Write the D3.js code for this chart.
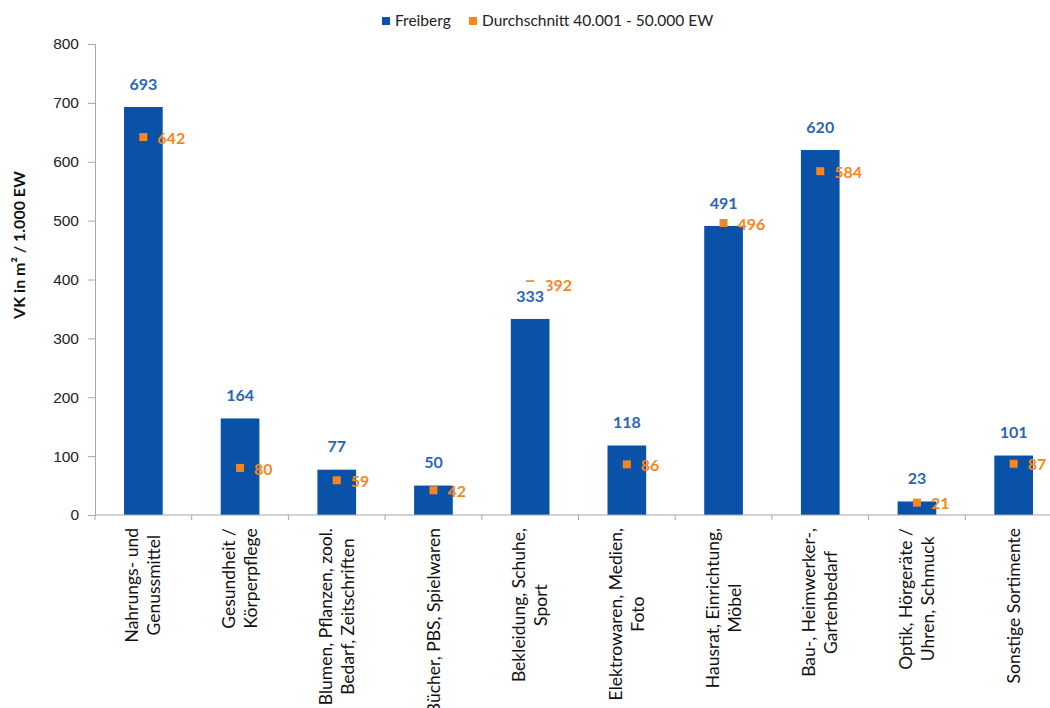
<!DOCTYPE html>
<html>
<head>
<meta charset="utf-8">
<script src="https://cdn.jsdelivr.net/npm/d3@7/dist/d3.min.js"></script>
<style>
  html, body { margin: 0; padding: 0; background: #fff; }
  svg { display: block; font-family: Lato, "Open Sans", sans-serif; }
</style>
</head>
<body>
<svg id="chart" width="1050" height="708"></svg>
<script>
// Sortimente (zeilenweise umbrochen)
const categories = [
  ["Nahrungs- und", "Genussmittel"],
  ["Gesundheit /", "Körperpflege"],
  ["Blumen, Pflanzen, zool.", "Bedarf, Zeitschriften"],
  ["Bücher, PBS, Spielwaren"],
  ["Bekleidung, Schuhe,", "Sport"],
  ["Elektrowaren, Medien,", "Foto"],
  ["Hausrat, Einrichtung,", "Möbel"],
  ["Bau-, Heimwerker-,", "Gartenbedarf"],
  ["Optik, Hörgeräte /", "Uhren, Schmuck"],
  ["Sonstige Sortimente"]
];
const freiberg = [693, 164, 77, 50, 333, 118, 491, 620, 23, 101];
const durchschnitt = [642, 80, 59, 42, 392, 86, 496, 584, 21, 87];
const yTicks = [0, 100, 200, 300, 400, 500, 600, 700, 800];
const seriesNames = ["Freiberg", "Durchschnitt 40.001 - 50.000 EW"];

const colBar = "#0A52A8", colBarLabel = "#2A66B5", colAvg = "#F7861E", colAxis = "#A6A6A6";

const svg = d3.select("#chart");
const plotL = 95, plotR = 1062, plotT = 44, plotB = 515;

const x = d3.scaleBand().domain(d3.range(categories.length)).range([plotL, plotR]).paddingInner(0.6).paddingOuter(0.3);
const xb = d3.scaleBand().domain(d3.range(categories.length)).range([plotL, plotR]);
const y = d3.scaleLinear().domain([0, 800]).range([plotB, plotT]);

// Y-Achse
const yAxis = svg.append("g").attr("transform", `translate(${plotL},0)`)
  .call(d3.axisLeft(y).tickValues(yTicks).tickSize(7).tickPadding(9).tickFormat(d3.format("d")));
yAxis.selectAll("line, path").attr("stroke", colAxis);
yAxis.selectAll("text").attr("font-size", 15.5).attr("fill", "#222");

// Achsentitel
svg.append("text")
  .attr("transform", `translate(25,245) rotate(-90)`)
  .attr("text-anchor", "middle").attr("font-size", 16).attr("font-weight", "bold").attr("fill", "#111")
  .text("VK in m² / 1.000 EW");

// Balken Freiberg
svg.append("g").selectAll("rect").data(freiberg).join("rect")
  .attr("x", (d, i) => x(i)).attr("width", x.bandwidth())
  .attr("y", d => y(d)).attr("height", d => y(0) - y(d))
  .attr("fill", colBar);

// X-Achse mit Trennstrichen zwischen den Kategorien
const xAxisG = svg.append("g");
xAxisG.append("line").attr("x1", plotL).attr("x2", plotR).attr("y1", plotB).attr("y2", plotB).attr("stroke", colAxis);
xAxisG.selectAll("line.t").data(d3.range(categories.length + 1)).join("line").attr("class", "t")
  .attr("x1", i => i < categories.length ? xb(i) : plotR).attr("x2", i => i < categories.length ? xb(i) : plotR)
  .attr("y1", plotB).attr("y2", plotB + 5).attr("stroke", colAxis);

// Durchschnittswerte als Quadrate
svg.append("g").selectAll("rect").data(durchschnitt).join("rect")
  .attr("x", (d, i) => x(i) + x.bandwidth() / 2 - 4).attr("y", d => y(d) - 4)
  .attr("width", 8).attr("height", 8).attr("fill", colAvg);

// Beschriftungen Durchschnitt
svg.append("g").selectAll("text").data(durchschnitt).join("text")
  .attr("x", (d, i) => x(i) + x.bandwidth() / 2 + 14).attr("y", d => y(d) + 1).attr("dy", "0.35em")
  .attr("font-size", 16).attr("font-weight", "bold").attr("fill", colAvg)
  .text(d => d);

// Beschriftungen Freiberg (mit weißem Hintergrund)
const lab = svg.append("g").selectAll("g").data(freiberg).join("g")
  .attr("transform", (d, i) => `translate(${x(i) + x.bandwidth() / 2},${y(d) - 23})`);
lab.append("rect").attr("x", -17).attr("y", -14).attr("width", 34).attr("height", 26).attr("fill", "#fff");
lab.append("text").attr("text-anchor", "middle").attr("dy", "0.35em")
  .attr("font-size", 16).attr("font-weight", "bold").attr("fill", colBarLabel)
  .text(d => d);

// Kategoriebeschriftungen, um 90° gedreht
const catG = svg.append("g");
categories.forEach((lines, i) => {
  const cx = xb(i) + xb.bandwidth() / 2;
  const g = catG.append("g").attr("transform", `translate(${cx},${plotB + 13}) rotate(-90)`);
  const texts = lines.map((ln, j) => g.append("text")
    .attr("font-size", 17.5).attr("fill", "#111").attr("text-anchor", "middle")
    .attr("y", (j - (lines.length - 1) / 2) * 22).attr("dy", "0.35em").text(ln));
  const maxLen = d3.max(texts, t => t.node().getComputedTextLength());
  texts.forEach(t => t.attr("x", -maxLen / 2));
});

// Legende
const leg = svg.append("g").attr("font-size", 15.5).attr("fill", "#222");
leg.append("rect").attr("x", 382).attr("y", 17).attr("width", 8).attr("height", 8).attr("fill", colBar);
leg.append("text").attr("x", 395).attr("y", 21).attr("dy", "0.35em").text(seriesNames[0]);
leg.append("rect").attr("x", 469).attr("y", 17).attr("width", 8).attr("height", 8).attr("fill", colAvg);
leg.append("text").attr("x", 482).attr("y", 21).attr("dy", "0.35em").text(seriesNames[1]);
</script>
</body>
</html>
